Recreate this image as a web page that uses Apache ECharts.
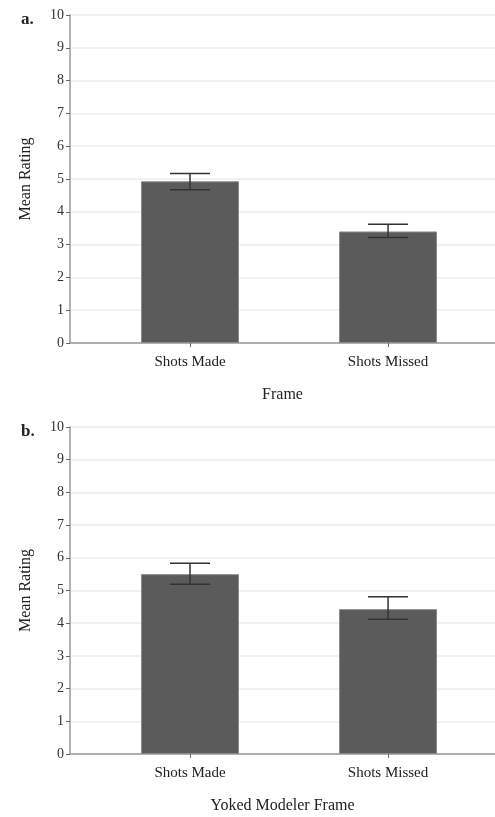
<!DOCTYPE html>
<html>
<head>
<meta charset="utf-8">
<script src="https://cdn.jsdelivr.net/npm/echarts@6/dist/echarts.min.js"></script>
<style>
  * { margin: 0; padding: 0; }
  #container { width: 495px; height: 817px; }
</style>
</head>
<body>
<div id="container"></div>
<script>
var categories = ['Shots Made', 'Shots Missed'];
var yTicks = [0, 1, 2, 3, 4, 5, 6, 7, 8, 9, 10];

// panel a: Frame
var meanA = [4.93, 3.40];
var lowA = [4.67, 3.22];
var highA = [5.17, 3.62];

// panel b: Yoked Modeler Frame
var meanB = [5.50, 4.43];
var lowB = [5.19, 4.12];
var highB = [5.83, 4.81];

var serif = 'Liberation Serif';
var chart = echarts.init(document.getElementById('container'));

function xAxisFor(idx, name) {
    return {
        type: 'value',
        gridIndex: idx,
        min: -0.606,
        max: 1.54,
        name: name,
        nameLocation: 'middle',
        nameGap: 44,
        nameTextStyle: { fontFamily: serif, fontSize: 16, color: '#222' },
        axisLine: { show: true, onZero: false, lineStyle: { color: '#999', width: 1.5 } },
        axisTick: { show: true, customValues: [0, 1], length: 4, lineStyle: { color: '#666' } },
        axisLabel: {
            customValues: [0, 1],
            margin: 12,
            fontFamily: serif, fontSize: 15, color: '#222',
            formatter: function (v) { return categories[Math.round(v)]; }
        },
        splitLine: { show: false }
    };
}

function yAxisFor(idx) {
    return {
        type: 'value',
        gridIndex: idx,
        min: 0,
        max: 10,
        interval: 1,
        name: 'Mean Rating',
        nameLocation: 'middle',
        nameGap: 36,
        nameRotate: 90,
        nameTextStyle: { fontFamily: serif, fontSize: 16, color: '#222' },
        axisLine: { show: true, onZero: false, lineStyle: { color: '#999', width: 1.5 } },
        axisTick: { show: true, inside: false, length: 4, lineStyle: { color: '#666' } },
        axisLabel: {
            margin: 6, fontFamily: serif, fontSize: 14, color: '#333',
            formatter: function (v) { return yTicks.indexOf(v) >= 0 ? String(v) : ''; }
        },
        splitLine: { show: true, lineStyle: { color: '#ececec', width: 1.5 } }
    };
}

function barSeries(idx, vals) {
    return {
        type: 'bar',
        xAxisIndex: idx,
        yAxisIndex: idx,
        barWidth: 98,
        itemStyle: { color: '#5b5b5b', borderColor: '#8a8a8a', borderWidth: 1 },
        data: vals.map(function (v, i) { return [i, v]; }),
        z: 2
    };
}

function errSeries(idx, lows, highs) {
    return {
        type: 'custom',
        xAxisIndex: idx,
        yAxisIndex: idx,
        z: 5,
        data: lows.map(function (l, i) { return [i, l, highs[i]]; }),
        renderItem: function (params, api) {
            var x = api.value(0);
            var lo = api.coord([x, api.value(1)]);
            var hi = api.coord([x, api.value(2)]);
            var hw = 20;
            var st = { stroke: '#333', lineWidth: 1.5 };
            return {
                type: 'group',
                children: [
                    { type: 'line', shape: { x1: lo[0], y1: lo[1], x2: hi[0], y2: hi[1] }, style: st },
                    { type: 'line', shape: { x1: lo[0] - hw, y1: lo[1], x2: lo[0] + hw, y2: lo[1] }, style: st },
                    { type: 'line', shape: { x1: hi[0] - hw, y1: hi[1], x2: hi[0] + hw, y2: hi[1] }, style: st }
                ]
            };
        }
    };
}

var option = {
    backgroundColor: '#fff',
    animation: false,
    title: [
        { text: 'a.', left: 16, top: 6, textStyle: { fontFamily: serif, fontSize: 17, fontWeight: 'bold', color: '#222' } },
        { text: 'b.', left: 16, top: 418, textStyle: { fontFamily: serif, fontSize: 17, fontWeight: 'bold', color: '#222' } }
    ],
    grid: [
        { left: 70, right: 0, top: 15, height: 328 },
        { left: 70, right: 0, top: 427, height: 327 }
    ],
    xAxis: [xAxisFor(0, 'Frame'), xAxisFor(1, 'Yoked Modeler Frame')],
    yAxis: [yAxisFor(0), yAxisFor(1)],
    series: [
        barSeries(0, meanA),
        errSeries(0, lowA, highA),
        barSeries(1, meanB),
        errSeries(1, lowB, highB)
    ]
};
chart.setOption(option);
</script>
</body>
</html>
